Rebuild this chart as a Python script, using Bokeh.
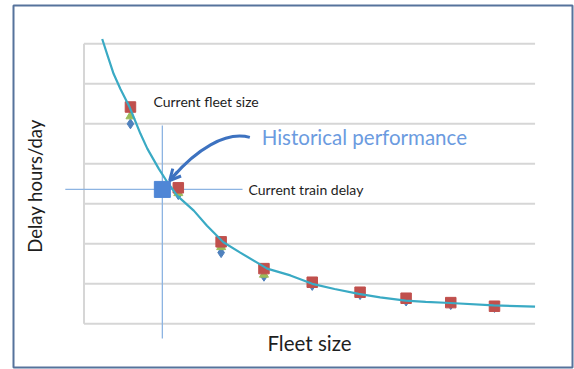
from bokeh.plotting import figure
from bokeh.models import Range1d, Arrow, OpenHead
from bokeh.core.properties import value
from bokeh.embed import file_html
from bokeh.resources import INLINE

# ---- data ----
fleet = [1.02, 2.07, 3.01, 3.95, 5.01, 6.06, 7.07, 8.05, 9.01]
delay_red = [5.42, 3.40, 2.05, 1.38, 1.04, 0.79, 0.64, 0.53, 0.44]
delay_green = [5.19, 3.27, 1.92, 1.23, 0.98, 0.75, 0.58, 0.50, 0.42]
delay_blue = [5.00, 3.23, 1.78, 1.19, 0.96, 0.73, 0.57, 0.48, 0.41]

trend_x = [0.40, 0.52, 0.65, 0.80, 1.0, 1.24, 1.39, 1.64, 1.83, 2.05, 2.41, 2.70,
           3.06, 3.43, 4.02, 4.53, 5.01, 5.5, 6.03, 6.5, 7.06, 7.5, 8.04, 8.99, 9.9]
trend_y = [7.12, 6.70, 6.25, 5.87, 5.42, 4.75, 4.38, 3.88, 3.54, 3.20, 2.83, 2.45,
           2.04, 1.78, 1.38, 1.21, 1.0, 0.87, 0.75, 0.66, 0.58, 0.55, 0.52, 0.46, 0.43]

current_fleet = [1.72]
current_delay = [3.36]

y_ticks = [0, 1, 2, 3, 4, 5, 6, 7]
x_extent = [0, 9.9]

FONT = "Lato"
TXT = "#1e1e1e"

# the plot frame is the whole bordered box; the chart area is x 0..9.9, y 0..7 inside it
p = figure(width=574, height=369, output_backend="svg", toolbar_location=None,
           x_range=Range1d(-1.547, 10.722), y_range=Range1d(-1.092, 7.958),
           min_border_left=13, min_border_right=2, min_border_top=5, min_border_bottom=2)
p.axis.visible = False
p.grid.visible = False
p.outline_line_color = "#56739c"
p.outline_line_width = 2
p.background_fill_color = "white"
p.border_fill_color = "white"

# horizontal grid lines at the y ticks, and the left axis line
p.segment(x0=[x_extent[0]] * len(y_ticks), x1=[x_extent[1]] * len(y_ticks),
          y0=y_ticks, y1=y_ticks, line_color="#d6d6d6", line_width=2)
p.segment(x0=[x_extent[0]], x1=[x_extent[0]], y0=[y_ticks[0]], y1=[y_ticks[-1]],
          line_color="#d6d6d6", line_width=2)

# axis titles
p.text(x=[-1.065], y=[3.445], text=["Delay hours/day"], angle=1.5708,
       text_font=value(FONT), text_font_size="18.5px", text_color=TXT,
       text_align="center", text_baseline="middle")
p.text(x=[4.95], y=[-0.49], text=["Fleet size"],
       text_font=value(FONT), text_font_size="20.5px", text_color=TXT,
       text_align="center", text_baseline="middle")

# crosshair lines at the current operating point
p.segment(x0=current_fleet, x1=current_fleet, y0=[4.96], y1=[-0.37],
          line_color="#8db4e2", line_width=1.3)
p.segment(x0=[-0.41], x1=[3.48], y0=current_delay, y1=current_delay,
          line_color="#8db4e2", line_width=1.3)

# series markers
p.scatter(fleet, delay_blue, marker="diamond", size=10, color="#4f81bd")
p.scatter(fleet, delay_green, marker="triangle", size=9, color="#9bbb59")
p.scatter(fleet, delay_red, marker="square", size=10.5, color="#c0504d")

# trend curve
p.line(trend_x, trend_y, line_color="#3aaac4", line_width=2.2)

# current point
p.scatter(current_fleet, current_delay, marker="square", size=16, color="#4f86d6")

# curved arrow
p.bezier(x0=[3.64], y0=[4.66], x1=[1.94], y1=[3.66],
         cx0=[3.10], cy0=[4.83], cx1=[2.45], cy1=[4.33],
         line_color="#3d72c0", line_width=3)
p.add_layout(Arrow(end=OpenHead(size=11, line_color="#3d72c0", line_width=3),
                   x_start=2.05, y_start=3.80, x_end=1.88, y_end=3.58,
                   line_color="#3d72c0", line_width=3))

# annotation texts
p.text(x=[1.525], y=[5.56], text=["Current fleet size"], text_font=value(FONT),
       text_font_size="14px", text_color=TXT, text_baseline="middle")
p.text(x=[3.61], y=[3.36], text=["Current train delay"], text_font=value(FONT),
       text_font_size="14px", text_color=TXT, text_baseline="middle")
p.text(x=[3.90], y=[4.68], text=["Historical performance"], text_font=value(FONT),
       text_font_size="20.5px", text_color="#6b9be0", text_baseline="middle")

open("out.html", "w").write(file_html(p, INLINE))
